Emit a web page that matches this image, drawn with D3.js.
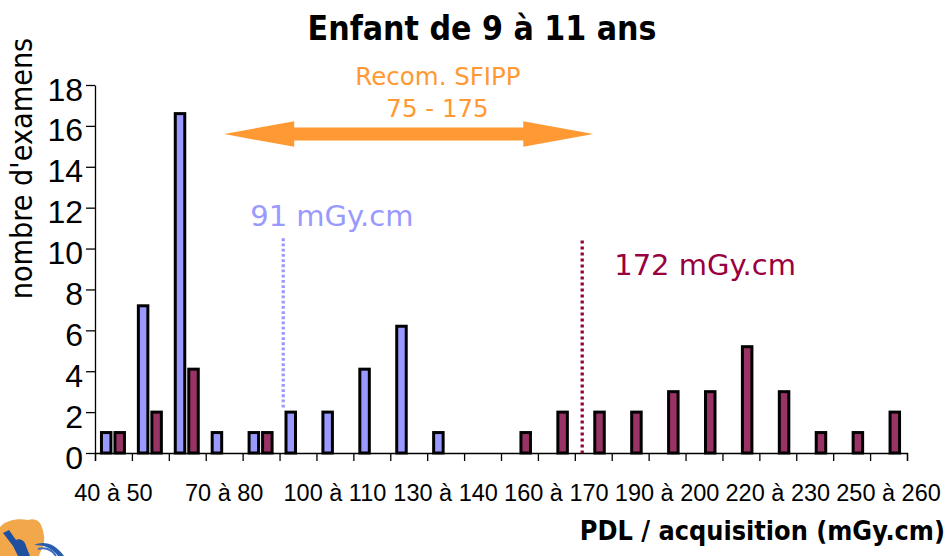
<!DOCTYPE html>
<html>
<head>
<meta charset="utf-8">
<script src="https://cdn.jsdelivr.net/npm/d3@7"></script>
<style>
  html, body { margin: 0; padding: 0; background: #fff; }
  svg { display: block; }
</style>
</head>
<body>
<svg id="chart" width="951" height="556"></svg>
<script>
// Dose bins (PDL per acquisition, mGy.cm)
const categories = [
  "40 à 50", "50 à 60", "60 à 70", "70 à 80", "80 à 90", "90 à 100",
  "100 à 110", "110 à 120", "120 à 130", "130 à 140", "140 à 150", "150 à 160",
  "160 à 170", "170 à 180", "180 à 190", "190 à 200", "200 à 210", "210 à 220",
  "220 à 230", "230 à 240", "240 à 250", "250 à 260"
];
const seriesNames = ["serieBleue", "serieBordeaux"];
const valuesBleue    = [1, 7.2, 16.6, 1, 1, 2, 2, 4.1, 6.2, 1, 0, 0, 0, 0, 0, 0, 0, 0, 0, 0, 0, 0];
const valuesBordeaux = [1, 2, 4.1, 0, 1, 0, 0, 0, 0, 0, 0, 1, 2, 2, 2, 3, 3, 5.2, 3, 1, 1, 2];
const seriesColors = ["#9999ff", "#993366"];

const yTicks = [0, 2, 4, 6, 8, 10, 12, 14, 16, 18];
const binEdges = [40, 50, 60, 70, 80, 90, 100, 110, 120, 130, 140, 150, 160, 170, 180, 190, 200, 210, 220, 230, 240, 250, 260];
const shownLabels = ["40 à 50", "70 à 80", "100 à 110", "130 à 140", "160 à 170", "190 à 200", "220 à 230", "250 à 260"];

// Median dose of each group, with the vertical span of its dotted marker (in counts)
const medianValues = [91, 172];
const medianLabels = ["91 mGy.cm", "172 mGy.cm"];
const medianSpans = [[10.5, 2.2], [10.4, 0]];
const medianColors = ["#9999ff", "#990040"];

// SFIPP recommended range
const recoRange = [75, 175];
const recoLevel = 15.6;
const recoLines = ["Recom. SFIPP", "75 - 175"];

const title = "Enfant de 9 à 11 ans";
const yTitle = "nombre d'examens";
const xTitle = "PDL / acquisition (mGy.cm)";

const W = 951, H = 556;
const plot = { left: 95, right: 907, top: 85, bottom: 453 };
const condensed = "'DejaVu Sans Condensed', 'DejaVu Sans', sans-serif";
const regular = "'DejaVu Sans', sans-serif";
const numFont = "'Liberation Sans', Arial, sans-serif";

const svg = d3.select("#chart");
svg.append("rect").attr("width", W).attr("height", H).attr("fill", "#fff");

const x0 = d3.scaleBand().domain(categories).range([plot.left, plot.right]).padding(0);
const x1 = d3.scaleBand().domain(seriesNames).range([-12, 11]).paddingInner(0.296).paddingOuter(0);
const xLin = d3.scaleLinear().domain([binEdges[0], binEdges[binEdges.length - 1]]).range([plot.left, plot.right]);
const y = d3.scaleLinear().domain([0, 18]).range([plot.bottom, plot.top]);

// Y axis
const gy = svg.append("g")
  .attr("transform", `translate(${plot.left},0)`)
  .call(d3.axisLeft(y).tickValues(yTicks).tickSize(9).tickSizeOuter(0).tickPadding(3));
gy.selectAll("line, path").attr("stroke", "#000").attr("stroke-width", 1.3);
gy.selectAll("text")
  .attr("font-family", numFont).attr("font-size", 32).attr("fill", "#000").attr("dy", "0.47em");

// X axis: ticks on the bin edges
const gxe = svg.append("g")
  .attr("transform", `translate(0,${plot.bottom})`)
  .call(d3.axisBottom(xLin).tickValues(binEdges).tickSize(8).tickSizeOuter(8).tickFormat(""));
gxe.selectAll("line, path").attr("stroke", "#000").attr("stroke-width", 1.3);

// X axis: bin labels centred on their bins
const gxl = svg.append("g")
  .attr("transform", `translate(0,${plot.bottom})`)
  .call(d3.axisBottom(x0).tickValues(shownLabels).tickSize(0).tickPadding(31));
gxl.select(".domain").remove();
gxl.selectAll("text")
  .attr("font-family", numFont).attr("font-size", 23.5).attr("fill", "#000");
gxl.selectAll("text").each(function () {
  const b = this.getBBox();
  const tr = d3.select(this.parentNode).attr("transform");
  const tx = +/translate\(([-\d.]+)/.exec(tr)[1];
  const over = tx + b.x + b.width - (W - 7);
  if (over > 0) d3.select(this).attr("x", -over);
});

// Bars
const table = categories.map((c, i) => ({ cat: c, vals: [valuesBleue[i], valuesBordeaux[i]] }));
const groups = svg.append("g").selectAll("g").data(table).join("g")
  .attr("transform", d => `translate(${x0(d.cat) + x0.bandwidth() / 2},0)`);
groups.selectAll("rect")
  .data(d => d.vals.map((v, k) => ({ v, k })).filter(e => e.v > 0))
  .join("rect")
  .attr("x", e => x1(seriesNames[e.k]))
  .attr("width", x1.bandwidth())
  .attr("y", e => y(e.v))
  .attr("height", e => y(0) - y(e.v))
  .attr("fill", e => seriesColors[e.k])
  .attr("stroke", "#000")
  .attr("stroke-width", 3);

// Median markers
medianValues.forEach((m, i) => {
  svg.append("line")
    .attr("x1", xLin(m)).attr("x2", xLin(m))
    .attr("y1", y(medianSpans[i][0])).attr("y2", y(medianSpans[i][1]))
    .attr("stroke", medianColors[i]).attr("stroke-width", 3.3)
    .attr("stroke-dasharray", i === 0 ? "2.8,2.4" : "3,3");
});
svg.append("text")
  .attr("x", xLin(medianValues[0]) - 33).attr("y", 226)
  .attr("font-family", regular).attr("font-size", 29).attr("fill", medianColors[0])
  .text(medianLabels[0]);
svg.append("text")
  .attr("x", xLin(medianValues[1]) + 32).attr("y", 275)
  .attr("font-family", regular).attr("font-size", 29).attr("fill", medianColors[1])
  .text(medianLabels[1]);

// Recommended range: double-headed arrow
const ax0 = xLin(recoRange[0]), ax1 = xLin(recoRange[1]), ay = y(recoLevel);
const headL = 70, headH = 12.8, shaftH = 6.5;
svg.append("path")
  .attr("d", [
    `M${ax0},${ay}`,
    `L${ax0 + headL},${ay - headH}`,
    `L${ax0 + headL},${ay - shaftH}`,
    `L${ax1 - headL},${ay - shaftH}`,
    `L${ax1 - headL},${ay - headH}`,
    `L${ax1},${ay}`,
    `L${ax1 - headL},${ay + headH}`,
    `L${ax1 - headL},${ay + shaftH}`,
    `L${ax0 + headL},${ay + shaftH}`,
    `L${ax0 + headL},${ay + headH}`, "Z"].join(""))
  .attr("fill", "#ff9933");
svg.append("text").attr("x", 438).attr("y", 85).attr("text-anchor", "middle")
  .attr("font-family", regular).attr("font-size", 24.5).attr("fill", "#ff9933").text(recoLines[0]);
svg.append("text").attr("x", 437.5).attr("y", 116.5).attr("text-anchor", "middle")
  .attr("font-family", regular).attr("font-size", 24.5).attr("fill", "#ff9933").text(recoLines[1]);

// Titles
svg.append("text").attr("x", 482).attr("y", 39.5).attr("text-anchor", "middle")
  .attr("font-family", condensed).attr("font-stretch", "condensed").attr("font-weight", "bold")
  .attr("font-size", 33.5).attr("fill", "#000").text(title);
svg.append("text").attr("transform", "translate(32,168.5) rotate(-90)").attr("text-anchor", "middle")
  .attr("font-family", condensed).attr("font-stretch", "condensed")
  .attr("font-size", 30.2).attr("fill", "#000").text(yTitle);
svg.append("text").attr("x", 945).attr("y", 540).attr("text-anchor", "end")
  .attr("font-family", condensed).attr("font-stretch", "condensed").attr("font-weight", "bold")
  .attr("font-size", 26.8).attr("fill", "#000").text(xTitle);

// Society logo, bottom left corner (partly cropped)
const logo = svg.append("g");
logo.append("path")
  .attr("d", "M0,527 C6,520 18,518 28,520 C34,518 39,520 41,525 C43,530 45,536 44,542 C43,548 40,552 39,556 L0,556 Z")
  .attr("fill", "#f2a84a");
logo.append("path")
  .attr("d", "M3,533 L9,530 L16,540 C20,538 25,541 26,546 L30,556 L18,556 L13,546 Z")
  .attr("fill", "#1f4f9f");
logo.append("path")
  .attr("d", "M34,545 C44,540 56,544 64,556 L58,556 C52,548 44,545 34,545 Z")
  .attr("fill", "#2a5cae");
logo.append("path")
  .attr("d", "M38,549 C46,547 52,550 56,556")
  .attr("fill", "none").attr("stroke", "#3b6cc0").attr("stroke-width", 2);
</script>
</body>
</html>
